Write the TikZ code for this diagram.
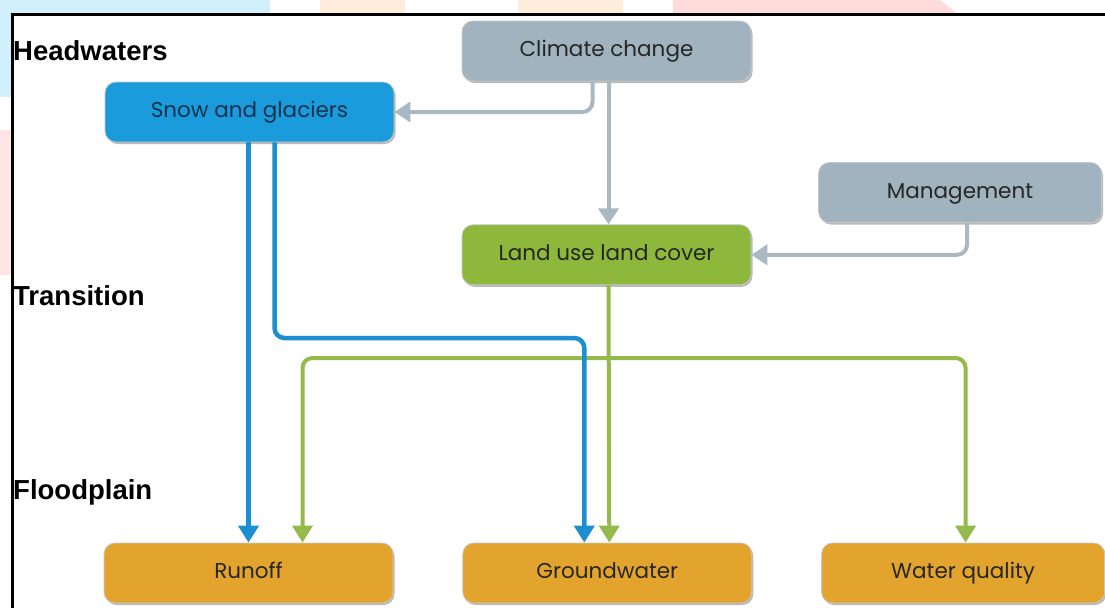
\documentclass[tikz,border=0pt]{standalone}
\usepackage{fontspec}
\newfontfamily\boxfont{Poppins}
\newfontfamily\zonefont{Liberation Sans}
\usetikzlibrary{arrows.meta,positioning,shadows}

\definecolor{climgray}{HTML}{A0B3BE}
\definecolor{linkgray}{HTML}{A9B8C1}
\definecolor{snowblue}{HTML}{1A9BDB}
\definecolor{snowtext}{HTML}{16324F}
\definecolor{iceblue}{HTML}{1B8FCF}
\definecolor{lulcgreen}{HTML}{8DB83C}
\definecolor{leafgreen}{HTML}{95BA4C}
\definecolor{floodorange}{HTML}{E3A42E}

\begin{document}
\begin{tikzpicture}[
    x=1pt, y=-1pt,
    box/.style={draw=black!22, line width=0.8pt, rounded corners=11pt, minimum width=289pt, minimum height=60pt,
      inner sep=0pt, text height=15pt, text depth=4pt, font=\boxfont\fontsize{21.5}{24}\selectfont, text=black!85,
      drop shadow={shadow xshift=1.5pt, shadow yshift=-2pt, fill=black!45, opacity=0.6}},
    zone/.style={anchor=west, inner sep=0pt, font=\zonefont\bfseries\fontsize{27.5}{32}\selectfont},
    garr/.style={-{Triangle[width=20pt,length=16pt]}, line width=4pt, draw=linkgray, rounded corners=10pt},
    barr/.style={-{Triangle[width=20pt,length=17pt]}, line width=4.5pt, draw=iceblue, rounded corners=10pt},
    larr/.style={-{Triangle[width=20pt,length=17pt]}, line width=4pt, draw=leafgreen, rounded corners=10pt},
  ]
    \useasboundingbox (0,0) rectangle (1105,608);
    % faint marks round the frame
    \fill[cyan!18] (0,0) rectangle (270,14);
    \fill[cyan!18] (0,0) rectangle (12,97);
    \fill[orange!14] (320,0) rectangle (405,14);
    \fill[orange!14] (518,0) rectangle (623,14);
    \fill[red!14] (673,0) -- (940,0) -- (958,14) -- (673,14) -- cycle;
    \fill[red!10] (0,130) rectangle (12,275);
    \draw[line width=3pt] (12,608) -- (12,14) -- (1105,14);

    \node[zone] (headw) at (13,51) {Headwaters};
    \node[zone] (trans) at (13,296) {Transition};
    \node[zone] (flood) at (13,492) {Floodplain};

    \node[box, fill=climgray] (climate) at (606.5,51) {Climate change};
    \node[box, fill=snowblue, text=snowtext] (snow) at (249.5,112) {Snow and glaciers};
    \node[box, fill=lulcgreen, below=143pt of climate] (landuse) {Land use land cover};
    \node[box, fill=climgray, minimum width=283pt] (mgmt) at (960,192.5) {Management};
    \node[box, fill=floodorange] (runoff) at (248.5,573) {Runoff};
    \node[box, fill=floodorange, right=69pt of runoff] (ground) {Groundwater};
    \node[box, fill=floodorange, minimum width=283pt, right=69pt of ground] (quality) {Water quality};

    \coordinate (bbend) at (0,338);
    \coordinate (gbend) at (0,358);
    \coordinate (gwblue) at ([xshift=-23pt]ground.north);
    \coordinate (gwgreen) at ([xshift=2pt]ground.north);
    \coordinate (gsplit) at (gwgreen |- gbend);

    \draw[garr] ([xshift=-14pt]climate.south) |- (snow);
    \draw[garr] ([xshift=2pt]climate.south) -- ([xshift=2pt]landuse.north);
    \draw[garr] ([xshift=7pt]mgmt.south) |- (landuse);

    \draw[larr] ([xshift=2pt]landuse.south) -- (gwgreen);
    \draw[larr] (gsplit) -| ([xshift=54pt]runoff.north);
    \draw[larr] (gsplit) -| ([xshift=2.5pt]quality.north);

    \draw[barr] (snow.south -| runoff) -- (runoff.north);
    \draw[barr] ([xshift=25pt]snow.south) |- (gwblue |- bbend) -- (gwblue);
  \end{tikzpicture}
\end{document}
